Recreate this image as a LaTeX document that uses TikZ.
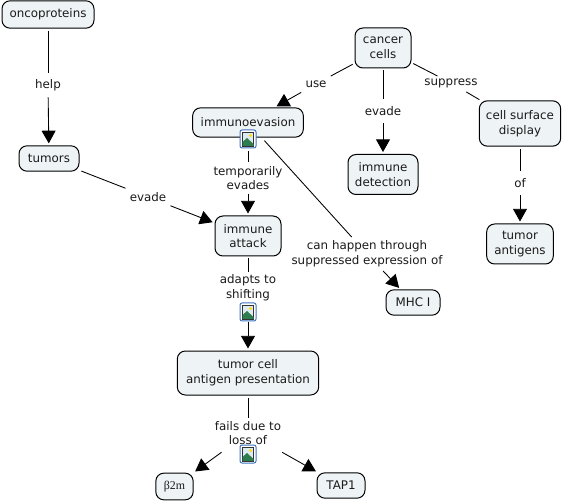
\documentclass[tikz,border=0pt]{standalone}
\usepackage{fontspec}
\setmainfont{DejaVu Sans}
\newfontfamily\serifgreek{Liberation Serif}
\usetikzlibrary{arrows.meta}
\definecolor{boxfill}{HTML}{EEF3F6}
\definecolor{txt}{HTML}{1A1A1A}
\definecolor{iconblue}{HTML}{3F74BE}
\definecolor{iconsky}{HTML}{DCEBF2}
\definecolor{iconhill}{HTML}{2E7D4F}
\tikzset{
  x=0.75pt,y=-0.75pt,
  concept/.style={draw=black,line width=0.75pt,fill=boxfill,rounded corners=6pt,align=center,font=\fontsize{8.9pt}{11pt}\selectfont,text=txt,inner sep=0pt},
  lbl/.style={align=center,font=\fontsize{8.9pt}{11pt}\selectfont,text=txt,inner xsep=3pt,inner ysep=0pt,minimum height=18pt},
  conn/.style={line width=0.65pt,black,shorten <=1.5pt},
  arr/.style={conn,shorten <=0pt,shorten >=1.5pt,-{Triangle[length=9.5pt,width=10.5pt]}},
  iconnode/.style={minimum width=12.5pt,minimum height=14pt,inner sep=0pt,draw=none},
  icon frame/.style={draw=iconblue,line width=0.75pt,fill=white,rounded corners=1.5pt},
}
\newcommand{\iconat}[2]{%
  \node[iconnode] (#1) at (#2) {};
  \draw[icon frame] ([shift={(-8,-9)}]#2) rectangle ([shift={(8,9)}]#2);
  \draw[line width=0.4pt,black!80,fill=iconsky] ([shift={(-5.5,-7)}]#2) rectangle ([shift={(5.5,7)}]#2);
  \fill[iconhill] ([shift={(-5.5,7)}]#2) -- ([shift={(-5.5,3)}]#2) -- ([shift={(-1,-1)}]#2) -- ([shift={(5.5,5)}]#2) -- ([shift={(5.5,7)}]#2) -- cycle;
  \fill[yellow!80!orange] ([shift={(2.5,-3.5)}]#2) circle (1.6);
}
\begin{document}
\begin{tikzpicture}
\useasboundingbox (0,0) rectangle (564,502);
\fill[white] (0,0) rectangle (564,502);
% concepts
\node[concept,minimum width=69pt,minimum height=20.5pt] (onco) at (48,14.5) {oncoproteins};
\node[concept,minimum width=45pt,minimum height=19pt] (tumors) at (49,158.5) {tumors};
\node[concept,minimum width=42pt,minimum height=30pt] (cancer) at (383,48) {cancer\\cells};
\node[concept,minimum width=83pt,minimum height=22pt] (evasion) at (248,122.5) {immunoevasion};
\node[concept,minimum width=52.5pt,minimum height=30pt] (detect) at (383,174.5) {immune\\detection};
\node[concept,minimum width=61pt,minimum height=34pt] (surface) at (520,123.5) {cell surface\\display};
\node[concept,minimum width=50pt,minimum height=30pt] (antigens) at (520,244) {tumor\\antigens};
\node[concept,minimum width=49.5pt,minimum height=30pt] (attack) at (248,236) {immune\\attack};
\node[concept,minimum width=40.5pt,minimum height=19pt] (mhc) at (413,302.5) {MHC I};
\node[concept,minimum width=106pt,minimum height=33pt] (present) at (248,373) {tumor cell\\antigen presentation};
\node[concept,minimum width=28pt,minimum height=20pt] (b2m) at (174.5,486.5) {{\serifgreek\fontsize{8.9pt}{11pt}\selectfont β2m}};
\node[concept,minimum width=36pt,minimum height=19pt] (tap) at (341,485.5) {TAP1};
% labels
\node[lbl] (help) at (48,85) {help};
\node[lbl] (use) at (316,84) {use};
\node[lbl] (evade1) at (383,111) {evade};
\node[lbl,minimum height=10pt] (suppress) at (451,83) {suppress};
\node[lbl] (of) at (520,183) {of};
\node[lbl] (evade2) at (148,197) {evade};
\node[lbl,minimum height=23pt] (temp) at (248,178) {temporarily\\evades};
\node[lbl,minimum height=25pt] (through) at (367,254) {can happen through\\suppressed expression of};
\node[lbl,minimum height=23pt] (adapts) at (248,288) {adapts to\\shifting};
\node[lbl,minimum height=28.5pt] (fails) at (248,433) {fails due to\\loss of};
% icons
\iconat{icona}{248,139}
\iconat{iconb}{248,312}
\iconat{iconc}{248,454}
% connectors
\draw[conn] (onco) -- (help);
\draw[arr] (help) -- (tumors);
\draw[conn] (cancer) -- (use);
\draw[arr] (use) -- (evasion);
\draw[conn] (cancer) -- (evade1);
\draw[arr] (evade1) -- (detect);
\draw[conn] (cancer) -- (suppress);
\draw[conn,shorten <=3pt,shorten >=1pt] (suppress) -- (surface);
\draw[conn] (surface) -- (of);
\draw[arr] (of) -- (antigens);
\draw[conn] (tumors) -- (evade2);
\draw[arr] (evade2) -- (attack);
\draw[conn] (icona) -- (temp);
\draw[arr] (temp) -- (attack);
\draw[conn,shorten <=3pt] (evasion) -- (through);
\draw[arr] (through) -- (mhc);
\draw[conn] (attack) -- (adapts);
\draw[arr] (iconb) -- (present);
\draw[conn,shorten >=-3pt] (present) -- (fails);
\draw[arr] (fails) -- (b2m);
\draw[arr] (fails) -- (tap);
\end{tikzpicture}
\end{document}
